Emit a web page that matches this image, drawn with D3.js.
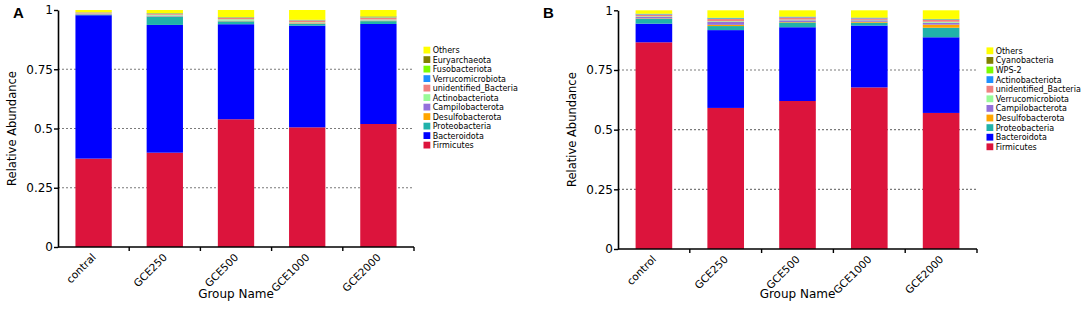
<!DOCTYPE html>
<html>
<head>
<meta charset="utf-8">
<script src="https://cdn.jsdelivr.net/npm/d3@7"></script>
<style>
  html, body { margin: 0; padding: 0; background: #fff; }
  svg { display: block; font-family: "DejaVu Sans", sans-serif; }
</style>
</head>
<body>
<svg id="chart" width="1084" height="311"></svg>
<script>
// ---------------- DATA ----------------
const groupsA = ["contral", "GCE250", "GCE500", "GCE1000", "GCE2000"];
const groupsB = ["control", "GCE250", "GCE500", "GCE1000", "GCE2000"];

// stacking order bottom -> top
const taxaA = ["Firmicutes", "Bacteroidota", "Proteobacteria", "Desulfobacterota",
  "Campilobacterota", "Actinobacteriota", "unidentified_Bacteria", "Verrucomicrobiota",
  "Fusobacteriota", "Euryarchaeota", "Others"];
const taxaB = ["Firmicutes", "Bacteroidota", "Proteobacteria", "Desulfobacterota",
  "Campilobacterota", "Verrucomicrobiota", "unidentified_Bacteria", "Actinobacteriota",
  "WPS-2", "Cyanobacteria", "Others"];

// relative abundance per taxon (row) for each group (column)
const abundanceA = [
  [0.373, 0.398, 0.539, 0.505, 0.519],
  [0.605, 0.539, 0.401, 0.429, 0.422],
  [0.003, 0.035, 0.012, 0.008, 0.012],
  [0.001, 0.001, 0.001, 0.002, 0.001],
  [0.001, 0.003, 0.002, 0.001, 0.002],
  [0.002, 0.004, 0.006, 0.003, 0.004],
  [0.004, 0.004, 0.006, 0.008, 0.008],
  [0.0005, 0.001, 0.001, 0.001, 0.001],
  [0.0005, 0.001, 0.001, 0.001, 0.002],
  [0.0005, 0.001, 0.001, 0.001, 0.002],
  [0.0095, 0.013, 0.030, 0.041, 0.027]
];
const abundanceB = [
  [0.866, 0.591, 0.620, 0.677, 0.570],
  [0.078, 0.326, 0.309, 0.259, 0.317],
  [0.020, 0.017, 0.020, 0.012, 0.040],
  [0.002, 0.005, 0.002, 0.004, 0.013],
  [0.006, 0.012, 0.007, 0.006, 0.008],
  [0.003, 0.003, 0.003, 0.002, 0.004],
  [0.007, 0.010, 0.009, 0.006, 0.008],
  [0.002, 0.003, 0.002, 0.002, 0.002],
  [0.001, 0.001, 0.001, 0.001, 0.001],
  [0.001, 0.001, 0.001, 0.001, 0.001],
  [0.014, 0.031, 0.026, 0.030, 0.036]
];
const yTicks = [0, 0.25, 0.5, 0.75, 1];
const yTickLabels = ["0", "0.25", "0.5", "0.75", "1"];

// ---------------- STYLE ----------------
const palette = ["#DC143C", "#0000FF", "#20B2AA", "#FFA500", "#9370DB", "#98FB98",
  "#F08080", "#1E90FF", "#7CFC00", "#808000", "#FFFF00"];

const svg = d3.select("#chart");

function drawPanel(cfg) {
  const { letter, groups, taxa, values, x0, x1, y0, y1, legendX, legendY, legendStep, letterX, titleX } = cfg;
  const g = svg.append("g");

  const rows = groups.map((grp, j) => {
    const r = { group: grp };
    taxa.forEach((t, i) => { r[t] = values[i][j]; });
    return r;
  });
  const series = d3.stack().keys(taxa)(rows);

  const x = d3.scaleBand().domain(groups).range([x0, x1]).paddingInner(0.49).paddingOuter(0.245);
  const y = d3.scaleLinear().domain([0, 1]).range([y0, y1]);
  const color = d3.scaleOrdinal().domain(taxa).range(palette);

  // dashed gridlines
  g.append("g").selectAll("line")
    .data(yTicks.filter(v => v > 0 && v < 1))
    .join("line")
    .attr("x1", x0).attr("x2", x1)
    .attr("y1", d => y(d)).attr("y2", d => y(d))
    .attr("stroke", "#7a7a7a").attr("stroke-width", 1.1)
    .attr("stroke-dasharray", "2,2");

  // bars
  g.append("g").selectAll("g")
    .data(series)
    .join("g")
    .attr("fill", d => color(d.key))
    .selectAll("rect")
    .data(d => d)
    .join("rect")
    .attr("x", d => x(d.data.group))
    .attr("width", x.bandwidth())
    .attr("y", d => y(d[1]))
    .attr("height", d => Math.max(0, y(d[0]) - y(d[1])));

  // y axis
  const yAxis = d3.axisLeft(y).tickValues(yTicks)
    .tickFormat((d, i) => yTickLabels[i]).tickSize(4).tickSizeOuter(0);
  const ya = g.append("g").attr("transform", `translate(${x0},0)`).call(yAxis);
  ya.select(".domain").attr("stroke", "#000").attr("stroke-width", 1.6);
  ya.selectAll(".tick line").attr("stroke", "#000").attr("stroke-width", 1.4);
  ya.selectAll(".tick text").attr("font-size", 12).attr("font-family", "DejaVu Sans")
    .attr("fill", "#000").attr("x", -5);

  // x axis: line with ticks at band boundaries
  g.append("line").attr("x1", x0).attr("x2", x1).attr("y1", y0).attr("y2", y0)
    .attr("stroke", "#000").attr("stroke-width", 1.6);
  const step = x.step();
  const bounds = groups.slice(1).map(grp => x(grp) - (step - x.bandwidth()) / 2);
  bounds.push(x1);
  g.append("g").selectAll("line").data(bounds).join("line")
    .attr("x1", d => d).attr("x2", d => d)
    .attr("y1", y0).attr("y2", y0 + 4)
    .attr("stroke", "#000").attr("stroke-width", 1.4);

  // x tick labels, rotated
  g.append("g").selectAll("text").data(groups).join("text")
    .attr("transform", d => `translate(${x(d) + x.bandwidth() / 2 + 3},${y0 + 11}) rotate(-45)`)
    .attr("text-anchor", "end")
    .attr("font-size", 10.5)
    .attr("fill", "#000")
    .text(d => d);

  // axis titles
  g.append("text").attr("x", (x0 + x1) / 2 + 0).attr("y", 298)
    .attr("text-anchor", "middle").attr("font-size", 12).attr("fill", "#000")
    .text("Group Name");
  g.append("text")
    .attr("transform", `translate(${titleX},${(y0 + y1) / 2}) rotate(-90)`)
    .attr("text-anchor", "middle").attr("font-size", 11.5).attr("fill", "#000")
    .text("Relative Abundance");

  // panel letter
  g.append("text").attr("x", letterX).attr("y", 18)
    .attr("font-size", 15).attr("font-weight", "bold").attr("fill", "#000")
    .attr("font-family", "Liberation Sans, Arial, sans-serif")
    .text(letter);

  // legend (top entry = Others)
  const legendKeys = taxa.slice().reverse();
  const lg = g.append("g").selectAll("g").data(legendKeys).join("g")
    .attr("transform", (d, i) => `translate(${legendX},${legendY + i * legendStep})`);
  lg.append("rect").attr("x", 0).attr("y", -3.3).attr("width", 6.8).attr("height", 6.8)
    .attr("fill", d => color(d));
  lg.append("text").attr("x", 9.2).attr("y", 3).attr("font-size", 8).attr("fill", "#000")
    .text(d => d);
}

drawPanel({
  letter: "A", groups: groupsA, taxa: taxaA, values: abundanceA,
  x0: 58, x1: 414, y0: 247, y1: 10,
  legendX: 423.5, legendY: 50, legendStep: 9.5, letterX: 13, titleX: 16
});
drawPanel({
  letter: "B", groups: groupsB, taxa: taxaB, values: abundanceB,
  x0: 618, x1: 977, y0: 249, y1: 10.3,
  legendX: 986.5, legendY: 50.7, legendStep: 9.6, letterX: 543, titleX: 576
});
</script>
</body>
</html>
